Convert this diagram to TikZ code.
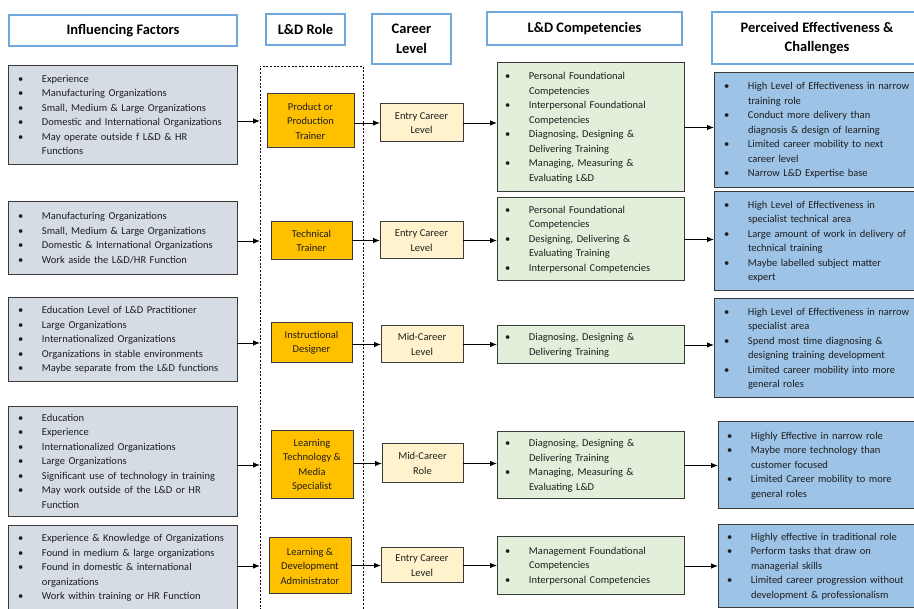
\documentclass[tikz,border=0pt]{standalone}
\usepackage{fontspec}
\setmainfont{Carlito}
\usetikzlibrary{arrows.meta}
\definecolor{facfill}{HTML}{D6DCE4}
\definecolor{rolefill}{HTML}{FFC000}
\definecolor{carfill}{HTML}{FFF2CC}
\definecolor{compfill}{HTML}{E2EFDA}
\definecolor{efffill}{HTML}{9DC3E6}
\definecolor{hdrline}{HTML}{6FA8DC}
\definecolor{boxline}{HTML}{3A3A3A}
\definecolor{txt}{HTML}{1E1E1E}
\setlength\parindent{0pt}
\newcommand\bl[1]{\noindent\begin{tabular}{@{}p{24pt}@{}l@{}}#1\end{tabular}}
\newcommand\bu{\textbullet}
\begin{document}
\begin{tikzpicture}[x=1pt,y=-1pt,
  every node/.style={inner sep=0pt, outer sep=0pt, text=txt},
  hdr/.style={draw=hdrline, line width=1.3pt, fill=white, anchor=north west, align=center,
    font=\fontsize{14.5}{19.5}\selectfont\bfseries, text=black},
  box/.style={draw=boxline, line width=1pt, anchor=north west, font=\fontsize{10.5}{14.5}\selectfont},
  fac/.style={box, fill=facfill, text width=209pt, inner xsep=10pt, align=left},
  comp/.style={box, fill=compfill, text width=171pt, inner xsep=8pt, align=left},
  eff/.style={box, fill=efffill, text width=188pt, inner xsep=10pt, align=left},
  role/.style={box, fill=rolefill, align=center},
  car/.style={box, fill=carfill, align=center},
  frame/.style={draw=black, line width=0.8pt, dash pattern=on 2pt off 1.6pt, anchor=north west},
  arr/.style={-{Latex[length=7pt,width=5.5pt]}, line width=0.9pt, black}
]
\useasboundingbox (0,0) rectangle (914,609);
\clip (0,0) rectangle (914,609);

% headers
\node[hdr, minimum width=228pt, minimum height=31pt] (h1) at (9,15) {Influencing Factors};
\node[hdr, minimum width=79pt, minimum height=31pt] (h2) at (266,14) {L\&D Role};
\node[hdr, minimum width=79pt, minimum height=50pt] (h3) at (372,14) {Career\\Level};
\node[hdr, minimum width=195pt, minimum height=33pt] (h4) at (487,12) {L\&D Competencies};
\node[hdr, minimum width=210pt, minimum height=52pt] (h5) at (712,12) {Perceived Effectiveness \&\\Challenges};

% dotted frame around roles
\node[frame, minimum width=103pt, minimum height=580pt] (fr) at (260,66) {};

% row 1
\node[fac, minimum height=99pt] (f1) at (8,66) {\bl{%
\bu & Experience\\
\bu & Manufacturing Organizations\\
\bu & Small, Medium \& Large Organizations\\
\bu & Domestic and International Organizations\\
\bu & May operate outside f L\&D \& HR\\
 & Functions}};
\node[role, minimum width=87pt, minimum height=54pt] (r1) at (267,94) {Product or\\Production\\Trainer};
\node[car, minimum width=83pt, minimum height=38pt] (c1) at (380,104) {Entry Career\\Level};
\node[comp, minimum height=129pt] (m1) at (497,63) {\bl{%
\bu & Personal Foundational\\
 & Competencies\\
\bu & Interpersonal Foundational\\
 & Competencies\\
\bu & Diagnosing, Designing \&\\
 & Delivering Training\\
\bu & Managing, Measuring \&\\
 & Evaluating L\&D}};
\node[eff, minimum height=115pt] (e1) at (714,73) {\bl{%
\bu & High Level of Effectiveness in narrow\\
 & training role\\
\bu & Conduct more delivery than\\
 & diagnosis \& design of learning\\
\bu & Limited career mobility to next\\
 & career level\\
\bu & Narrow L\&D Expertise base}};

% row 2
\node[fac, minimum height=73pt] (f2) at (8,202) {\bl{%
\bu & Manufacturing Organizations\\
\bu & Small, Medium \& Large Organizations\\
\bu & Domestic \& International Organizations\\
\bu & Work aside the L\&D/HR Function}};
\node[role, minimum width=81pt, minimum height=38pt] (r2) at (271,222) {Technical\\Trainer};
\node[car, minimum width=83pt, minimum height=37pt] (c2) at (380,222) {Entry Career\\Level};
\node[comp, minimum height=83pt] (m2) at (497,198) {\bl{%
\bu & Personal Foundational\\
 & Competencies\\
\bu & Designing, Delivering \&\\
 & Evaluating Training\\
\bu & Interpersonal Competencies}};
\node[eff, minimum height=99pt] (e2) at (714,192) {\bl{%
\bu & High Level of Effectiveness in\\
 & specialist technical area\\
\bu & Large amount of work in delivery of\\
 & technical training\\
\bu & Maybe labelled subject matter\\
 & expert}};

% row 3
\node[fac, minimum height=84pt] (f3) at (8,298) {\bl{%
\bu & Education Level of L\&D Practitioner\\
\bu & Large Organizations\\
\bu & Internationalized Organizations\\
\bu & Organizations in stable environments\\
\bu & Maybe separate from the L\&D functions}};
\node[role, minimum width=81pt, minimum height=40pt] (r3) at (271,323) {Instructional\\Designer};
\node[car, minimum width=82pt, minimum height=37pt] (c3) at (381,326) {Mid-Career\\Level};
\node[comp, minimum height=38pt] (m3) at (497,326) {\bl{%
\bu & Diagnosing, Designing \&\\
 & Delivering Training}};
\node[eff, minimum height=99pt] (e3) at (714,299) {\bl{%
\bu & High Level of Effectiveness in narrow\\
 & specialist area\\
\bu & Spend most time diagnosing \&\\
 & designing training development\\
\bu & Limited career mobility into more\\
 & general roles}};

% row 4
\node[fac, minimum height=110pt] (f4) at (8,407) {\bl{%
\bu & Education\\
\bu & Experience\\
\bu & Internationalized Organizations\\
\bu & Large Organizations\\
\bu & Significant use of technology in training\\
\bu & May work outside of the L\&D or HR\\
 & Function}};
\node[role, minimum width=82pt, minimum height=68pt] (r4) at (271,431) {Learning\\Technology \&\\Media\\Specialist};
\node[car, minimum width=81pt, minimum height=39pt] (c4) at (382,444) {Mid-Career\\Role};
\node[comp, minimum height=67pt] (m4) at (497,432) {\bl{%
\bu & Diagnosing, Designing \&\\
 & Delivering Training\\
\bu & Managing, Measuring \&\\
 & Evaluating L\&D}};
\node[eff, inner xsep=9pt, minimum height=87pt] (e4) at (718,422) {\bl{%
\bu & Highly Effective in narrow role\\
\bu & Maybe more technology than\\
 & customer focused\\
\bu & Limited Career mobility to more\\
 & general roles}};

% row 5
\node[fac, minimum height=84pt] (f5) at (8,526) {\bl{%
\bu & Experience \& Knowledge of Organizations\\
\bu & Found in medium \& large organizations\\
\bu & Found in domestic \& international\\
 & organizations\\
\bu & Work within training or HR Function}};
\node[role, minimum width=82pt, minimum height=56pt] (r5) at (269,538) {Learning \&\\Development\\Administrator};
\node[car, minimum width=82pt, minimum height=35pt] (c5) at (381,548) {Entry Career\\Level};
\node[comp, minimum height=58pt] (m5) at (497,537) {\bl{%
\bu & Management Foundational\\
 & Competencies\\
\bu & Interpersonal Competencies}};
\node[eff, inner xsep=9pt, minimum height=83pt] (e5) at (718,525) {\bl{%
\bu & Highly effective in traditional role\\
\bu & Perform tasks that draw on\\
 & managerial skills\\
\bu & Limited career progression without\\
 & development \& professionalism}};

% connectors
\foreach \i in {1,...,5}{
  \draw[arr] (f\i.east |- r\i.center) -- (fr.west |- r\i.center);
  \draw[arr] (r\i.east |- c\i.center) -- (c\i.west);
  \draw[arr] (c\i.east) -- (m\i.west |- c\i.center);
  \draw[arr] (m\i.east) -- (e\i.west |- m\i.center);
}
\end{tikzpicture}
\end{document}
